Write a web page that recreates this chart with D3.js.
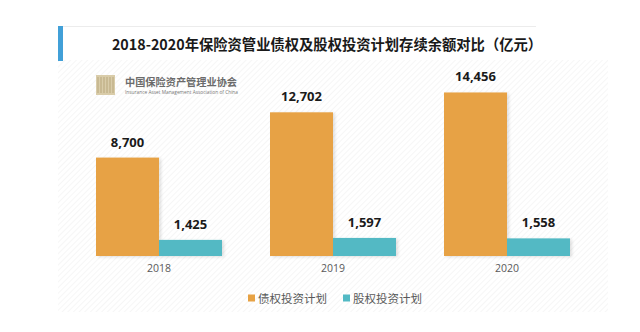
<!DOCTYPE html>
<html>
<head>
<meta charset="utf-8">
<script src="https://cdn.jsdelivr.net/npm/d3@7"></script>
<style>
  html, body { margin: 0; padding: 0; background: #fff; }
  svg { display: block; }
</style>
</head>
<body>
<svg id="chart" width="640" height="332"></svg>
<script>
// Outstanding balance of debt & equity investment plans (100 million yuan)
const years = ["2018", "2019", "2020"];
const seriesNames = ["债权投资计划", "股权投资计划"];
const debtPlan = [8700, 12702, 14456];
const equityPlan = [1425, 1597, 1558];
const seriesColors = ["#e7a244", "#52b9c4"];
const titleText = "2018-2020年保险资管业债权及股权投资计划存续余额对比（亿元）";

const rows = years.map((y, i) => ({ year: y, values: [debtPlan[i], equityPlan[i]] }));

const svg = d3.select("#chart");
const W = 640, H = 332;

// background hatch pattern
const defs = svg.append("defs");
const pat = defs.append("pattern")
  .attr("id", "hatch")
  .attr("patternUnits", "userSpaceOnUse")
  .attr("width", 4).attr("height", 4)
  .attr("patternTransform", "rotate(45)");
pat.append("rect").attr("width", 4).attr("height", 4).attr("fill", "#ffffff");
pat.append("line").attr("x1", 0).attr("y1", 0).attr("x2", 0).attr("y2", 4)
  .attr("stroke", "#f0f0f0").attr("stroke-width", 1.2);

const shadow = defs.append("filter").attr("id", "barShadow")
  .attr("x", "-10%").attr("y", "-10%").attr("width", "130%").attr("height", "130%");
shadow.append("feDropShadow").attr("dx", 2).attr("dy", 1).attr("stdDeviation", 1.5)
  .attr("flood-color", "#000").attr("flood-opacity", 0.12);

svg.append("rect").attr("width", W).attr("height", H).attr("fill", "#fff");
svg.append("rect").attr("x", 58).attr("y", 60).attr("width", 550).attr("height", 252)
  .attr("fill", "url(#hatch)");

// title block
svg.append("line").attr("x1", 63).attr("x2", 536).attr("y1", 26.5).attr("y2", 26.5)
  .attr("stroke", "#ececec").attr("stroke-width", 1);
svg.append("rect").attr("x", 58).attr("y", 26).attr("width", 5).attr("height", 35)
  .attr("fill", "#41a0d8");
svg.append("text")
  .attr("x", 327).attr("y", 43)
  .attr("text-anchor", "middle").attr("dominant-baseline", "central")
  .attr("font-family", "'Noto Sans CJK SC', sans-serif")
  .attr("font-weight", "bold").attr("font-size", 14.3)
  .attr("fill", "#1a1a1a")
  .text(titleText);

// association logo
const logo = svg.append("g").attr("transform", "translate(96,75)");
logo.append("rect").attr("width", 19).attr("height", 20).attr("fill", "#d9cca9");
d3.range(2, 19, 3).forEach(x => {
  logo.append("line").attr("x1", x).attr("x2", x).attr("y1", 2).attr("y2", 18)
    .attr("stroke", "#b8a77c").attr("stroke-width", 1);
});
logo.append("text").attr("x", 29).attr("y", 11)
  .attr("font-family", "'Noto Sans CJK SC', sans-serif")
  .attr("font-size", 10.2).attr("font-weight", "bold").attr("fill", "#6b6b6b")
  .attr("textLength", 112).attr("lengthAdjust", "spacingAndGlyphs")
  .text("中国保险资产管理业协会");
logo.append("text").attr("x", 29).attr("y", 19)
  .attr("font-family", "'Open Sans', sans-serif")
  .attr("font-size", 4.6).attr("fill", "#777")
  .attr("textLength", 113).attr("lengthAdjust", "spacingAndGlyphs")
  .text("Insurance Asset Management Association of China");

// scales
const x0 = d3.scaleBand().domain(years).range([72, 594])
  .paddingInner(0.2759).paddingOuter(0.138);
const x1 = d3.scaleBand().domain(d3.range(seriesNames.length)).range([0, x0.bandwidth()]);
const y = d3.scaleLinear().domain([0, 16000]).range([256, 75]);

// bars
const groups = svg.append("g").selectAll("g").data(rows).join("g")
  .attr("transform", d => `translate(${x0(d.year)},0)`);

groups.selectAll("rect").data(d => d.values.map((v, i) => ({ v, i }))).join("rect")
  .attr("x", d => x1(d.i))
  .attr("y", d => y(d.v))
  .attr("width", x1.bandwidth())
  .attr("height", d => y(0) - y(d.v))
  .attr("fill", d => seriesColors[d.i])
  .attr("filter", "url(#barShadow)");

// value labels
const fmt = d3.format(",");
groups.selectAll("text").data(d => d.values.map((v, i) => ({ v, i }))).join("text")
  .attr("x", d => x1(d.i) + x1.bandwidth() / 2)
  .attr("y", d => y(d.v) - 11)
  .attr("text-anchor", "middle")
  .attr("font-family", "'Open Sans', sans-serif")
  .attr("font-weight", "bold").attr("font-size", 13)
  .attr("fill", "#1a1a1a")
  .text(d => fmt(d.v));

// category axis
const xAxis = svg.append("g").attr("transform", "translate(0,256)")
  .call(d3.axisBottom(x0).tickSize(0).tickPadding(9));
xAxis.select(".domain").remove();
xAxis.selectAll("text")
  .attr("font-family", "'Open Sans', sans-serif")
  .attr("font-size", 10.5).attr("fill", "#595959");

// legend
const legendX = [248, 343];
const legend = svg.append("g").selectAll("g").data(seriesNames).join("g")
  .attr("transform", (d, i) => `translate(${legendX[i]},294.5)`);
legend.append("rect").attr("width", 7).attr("height", 7)
  .attr("fill", (d, i) => seriesColors[i]);
legend.append("text").attr("x", 10).attr("y", 3.5)
  .attr("dominant-baseline", "central")
  .attr("font-family", "'Noto Sans CJK SC', sans-serif")
  .attr("font-size", 11.5).attr("fill", "#595959")
  .text(d => d);
</script>
</body>
</html>
